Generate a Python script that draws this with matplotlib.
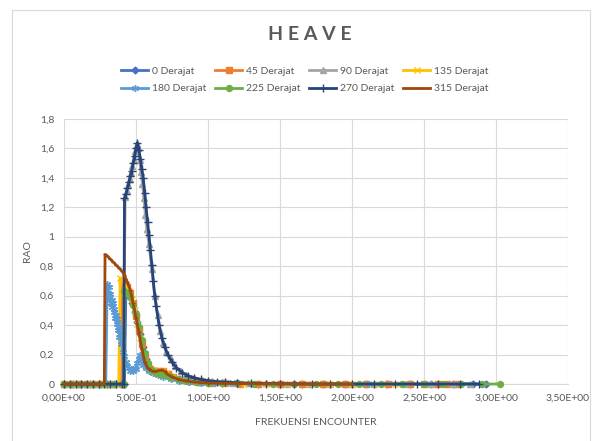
import matplotlib
matplotlib.use("Agg")
import matplotlib.pyplot as plt
from matplotlib.lines import Line2D
from matplotlib.ticker import FuncFormatter, MultipleLocator

plt.rcParams['font.family'] = ['Lato', 'DejaVu Sans']

# RAO heave per heading: (encounter frequency, RAO)
deg0 = [(0.0, 0), (0.06, 0), (0.12, 0), (0.18, 0), (0.24, 0), (0.30, 0), (0.36, 0), (0.42, 0),
        (0.43, 0.64), (0.45, 0.60), (0.47, 0.55), (0.49, 0.49), (0.51, 0.42), (0.53, 0.34),
        (0.55, 0.25), (0.57, 0.17), (0.60, 0.11), (0.63, 0.085), (0.66, 0.075), (0.70, 0.06),
        (0.75, 0.045), (0.80, 0.032), (0.86, 0.022), (0.93, 0.014), (1.0, 0.009), (1.1, 0.006),
        (1.2, 0.004), (1.35, 0.003), (1.5, 0.002), (1.65, 0.001), (1.8, 0.001), (1.95, 0),
        (2.1, 0), (2.24, 0), (2.4, 0), (2.55, 0), (2.7, 0), (2.84, 0), (2.93, 0)]

deg45 = [(0.0, 0), (0.05, 0), (0.10, 0), (0.15, 0), (0.20, 0), (0.25, 0), (0.30, 0), (0.35, 0),
         (0.40, 0), (0.405, 0.70), (0.42, 0.69), (0.44, 0.66), (0.46, 0.62), (0.48, 0.55),
         (0.50, 0.46), (0.52, 0.37), (0.54, 0.27), (0.56, 0.18), (0.58, 0.12), (0.60, 0.10),
         (0.63, 0.09), (0.66, 0.09), (0.69, 0.085), (0.72, 0.065), (0.76, 0.045), (0.82, 0.028),
         (0.88, 0.018), (0.95, 0.011), (1.03, 0.007), (1.12, 0.004), (1.22, 0.003), (1.35, 0.002),
         (1.5, 0.001), (1.65, 0), (1.8, 0), (1.95, 0), (2.1, 0), (2.25, 0), (2.4, 0), (2.5, 0),
         (2.6, 0), (2.66, 0), (2.72, 0)]

deg90 = [(0.0, 0), (0.05, 0), (0.10, 0), (0.15, 0), (0.20, 0), (0.25, 0), (0.30, 0), (0.35, 0),
         (0.41, 0), (0.425, 1.27), (0.435, 1.31), (0.445, 1.35), (0.455, 1.39), (0.465, 1.43),
         (0.475, 1.48), (0.485, 1.52), (0.495, 1.58), (0.505, 1.63), (0.515, 1.60), (0.525, 1.52),
         (0.535, 1.44), (0.545, 1.36), (0.555, 1.26), (0.565, 1.15), (0.575, 1.05), (0.59, 0.95),
         (0.61, 0.78), (0.63, 0.60), (0.65, 0.47), (0.67, 0.36), (0.69, 0.28), (0.71, 0.22),
         (0.74, 0.17), (0.77, 0.12), (0.81, 0.085), (0.85, 0.06), (0.90, 0.043), (0.96, 0.03),
         (1.03, 0.02), (1.1, 0.014), (1.18, 0.01), (1.28, 0.006), (1.4, 0.004), (1.55, 0.002),
         (1.7, 0.001), (1.85, 0), (2.0, 0), (2.15, 0), (2.37, 0), (2.55, 0), (2.7, 0), (2.82, 0)]

deg135 = [(0.0, 0), (0.05, 0), (0.10, 0), (0.15, 0), (0.20, 0), (0.25, 0), (0.30, 0), (0.35, 0),
          (0.38, 0), (0.39, 0.72), (0.41, 0.70), (0.43, 0.67), (0.45, 0.63), (0.47, 0.58),
          (0.49, 0.50), (0.51, 0.41), (0.53, 0.31), (0.55, 0.21), (0.57, 0.14), (0.59, 0.11),
          (0.62, 0.095), (0.65, 0.09), (0.68, 0.09), (0.71, 0.075), (0.75, 0.05), (0.80, 0.032),
          (0.87, 0.02), (0.94, 0.012), (1.02, 0.008), (1.12, 0.005), (1.25, 0.003), (1.4, 0.002),
          (1.55, 0.001), (1.7, 0), (1.85, 0), (2.0, 0), (2.15, 0), (2.3, 0)]

deg180 = [(0.0, 0), (0.05, 0), (0.10, 0), (0.15, 0), (0.20, 0), (0.25, 0), (0.29, 0),
          (0.30, 0.68), (0.305, 0.62), (0.31, 0.66), (0.315, 0.58), (0.32, 0.61), (0.325, 0.55),
          (0.33, 0.57), (0.335, 0.52), (0.34, 0.55), (0.345, 0.49), (0.35, 0.51), (0.355, 0.45),
          (0.36, 0.47), (0.365, 0.41), (0.37, 0.44), (0.375, 0.37), (0.38, 0.39), (0.385, 0.32),
          (0.39, 0.34), (0.395, 0.27), (0.40, 0.29), (0.41, 0.22), (0.42, 0.19), (0.43, 0.15),
          (0.44, 0.12), (0.45, 0.11), (0.46, 0.09), (0.47, 0.10), (0.48, 0.09), (0.49, 0.11),
          (0.50, 0.10), (0.51, 0.14), (0.52, 0.17), (0.53, 0.20), (0.54, 0.16), (0.55, 0.13),
          (0.57, 0.11), (0.59, 0.09), (0.62, 0.075), (0.65, 0.06), (0.69, 0.045), (0.74, 0.032),
          (0.80, 0.022), (0.87, 0.015), (0.95, 0.01), (1.05, 0.006), (1.15, 0.004), (1.3, 0.002),
          (1.45, 0.001), (1.6, 0), (1.75, 0), (1.9, 0), (2.05, 0), (2.12, 0)]

deg225 = [(0.0, 0), (0.05, 0), (0.10, 0), (0.15, 0), (0.20, 0), (0.25, 0), (0.30, 0), (0.35, 0),
          (0.40, 0), (0.415, 0), (0.42, 0.63), (0.44, 0.62), (0.46, 0.59), (0.48, 0.54),
          (0.50, 0.47), (0.52, 0.39), (0.54, 0.30), (0.56, 0.21), (0.58, 0.14), (0.60, 0.10),
          (0.62, 0.085), (0.64, 0.075), (0.67, 0.07), (0.70, 0.06), (0.74, 0.045), (0.79, 0.032),
          (0.85, 0.022), (0.92, 0.015), (1.0, 0.01), (1.1, 0.006), (1.2, 0.004), (1.32, 0.002),
          (1.45, 0.001), (1.6, 0), (1.75, 0), (1.9, 0), (2.05, 0), (2.2, 0), (2.35, 0), (2.5, 0),
          (2.63, 0), (2.76, 0), (2.9, 0), (3.03, 0)]

deg270 = [(0.0, 0), (0.04, 0), (0.08, 0), (0.12, 0), (0.16, 0), (0.20, 0), (0.24, 0), (0.28, 0),
          (0.32, 0), (0.36, 0), (0.40, 0), (0.415, 0), (0.42, 1.26), (0.43, 1.29), (0.44, 1.33),
          (0.45, 1.37), (0.46, 1.41), (0.47, 1.45), (0.48, 1.50), (0.49, 1.55), (0.50, 1.60),
          (0.51, 1.64), (0.52, 1.59), (0.53, 1.53), (0.54, 1.46), (0.55, 1.40), (0.56, 1.30),
          (0.57, 1.20), (0.58, 1.10), (0.59, 1.01), (0.60, 0.91), (0.61, 0.81), (0.62, 0.70),
          (0.63, 0.60), (0.64, 0.53), (0.66, 0.40), (0.68, 0.31), (0.70, 0.25), (0.72, 0.20),
          (0.75, 0.15), (0.78, 0.11), (0.82, 0.078), (0.86, 0.057), (0.90, 0.043), (0.95, 0.031),
          (1.0, 0.023), (1.06, 0.016), (1.12, 0.012), (1.2, 0.008), (1.3, 0.005), (1.4, 0.003),
          (1.5, 0.002), (1.6, 0.001), (1.72, 0), (1.85, 0), (2.0, 0), (2.15, 0), (2.3, 0),
          (2.45, 0), (2.6, 0), (2.75, 0), (2.88, 0)]

deg315 = [(0.0, 0), (0.05, 0), (0.10, 0), (0.15, 0), (0.20, 0), (0.25, 0), (0.28, 0),
          (0.285, 0.88), (0.30, 0.87), (0.32, 0.85), (0.34, 0.83), (0.36, 0.81), (0.38, 0.79),
          (0.40, 0.77), (0.42, 0.74), (0.44, 0.69), (0.46, 0.64), (0.48, 0.55), (0.50, 0.45),
          (0.52, 0.35), (0.54, 0.24), (0.56, 0.15), (0.58, 0.11), (0.60, 0.095), (0.62, 0.085),
          (0.64, 0.085), (0.66, 0.092), (0.68, 0.095), (0.70, 0.085), (0.72, 0.065), (0.75, 0.048),
          (0.80, 0.03), (0.85, 0.02), (0.90, 0.014), (0.95, 0.01), (1.0, 0.007), (1.1, 0.004),
          (1.2, 0.003), (1.35, 0.002), (1.5, 0.001), (1.65, 0.001), (1.8, 0), (1.95, 0), (2.0, 0)]

labels = ["0 Derajat", "45 Derajat", "90 Derajat", "135 Derajat",
          "180 Derajat", "225 Derajat", "270 Derajat", "315 Derajat"]
series = [deg0, deg45, deg90, deg135, deg180, deg225, deg270, deg315]
colors = ["#4472C4", "#ED7D31", "#A5A5A5", "#FFC000",
          "#5B9BD5", "#70AD47", "#264478", "#9E480E"]
markers = ["D", "s", "^", "x", (6, 2, 0), "o", "+", "_"]
msizes = [3.5, 4.3, 4.0, 4.0, 5.0, 4.3, 5.5, 3.5]

fig = plt.figure(figsize=(5.93, 4.41), dpi=100)
ax = fig.add_axes([64 / 593, 1 - 384 / 441, (568 - 64) / 593, (384 - 119) / 441])

for data, lab, c, m, ms in zip(series, labels, colors, markers, msizes):
    xs = [p[0] for p in data]
    ys = [p[1] for p in data]
    ax.plot(xs, ys, color=c, lw=2.0, marker=m, markersize=ms,
            markerfacecolor=c, markeredgecolor=c, markeredgewidth=1.0,
            label=lab, clip_on=False, zorder=3)

ax.set_xlim(0, 3.5)
ax.set_ylim(0, 1.8)
ax.xaxis.set_major_locator(MultipleLocator(0.5))
ax.yaxis.set_major_locator(MultipleLocator(0.2))


def sci_comma(v, pos):
    return f"{v:.2E}".replace(".", ",")


def dec_comma(v, pos):
    s = f"{v:.1f}"
    if s.endswith(".0"):
        s = s[:-2]
    return s.replace(".", ",")


ax.xaxis.set_major_formatter(FuncFormatter(sci_comma))
ax.yaxis.set_major_formatter(FuncFormatter(dec_comma))
ax.grid(True, color="#D9D9D9", lw=0.8, zorder=0)
ax.set_axisbelow(True)
for side in ["top", "right", "left"]:
    ax.spines[side].set_visible(False)
ax.spines["bottom"].set_color("#D9D9D9")
ax.tick_params(length=0, labelsize=7.5, labelcolor="#595959", pad=7)

ax.set_xlabel("FREKUENSI ENCOUNTER", fontsize=7.5, color="#595959", labelpad=11)
ax.set_ylabel("RAO", fontsize=7.5, color="#595959", labelpad=6)

fig.text(310 / 593, 1 - 35 / 441, "H E A V E", ha="center", va="center",
         fontsize=14, fontweight="bold", color="#595959")

handles = [Line2D([], [], color=c, lw=2.0, marker=m, markersize=ms,
                  markerfacecolor=c, markeredgecolor=c, markeredgewidth=1.0)
           for c, m, ms in zip(colors, markers, msizes)]
# legend fills column by column; order entries so rows read left to right
order = [0, 4, 1, 5, 2, 6, 3, 7]
fig.legend([handles[i] for i in order], [labels[i] for i in order],
           loc="center", bbox_to_anchor=(305 / 593, 1 - 80 / 441),
           ncol=4, frameon=False, fontsize=7.5, handlelength=2.6, columnspacing=0.8,
           handletextpad=0.4, labelspacing=0.8, labelcolor="#595959")

# chart area border
fig.add_artist(plt.Rectangle((12 / 593, -0.02), (590 - 12) / 593, 1 - 10 / 441 + 0.02,
                             transform=fig.transFigure, fill=False,
                             edgecolor="#D9D9D9", lw=0.8))

fig.savefig("out.png", dpi=100, facecolor="white")
